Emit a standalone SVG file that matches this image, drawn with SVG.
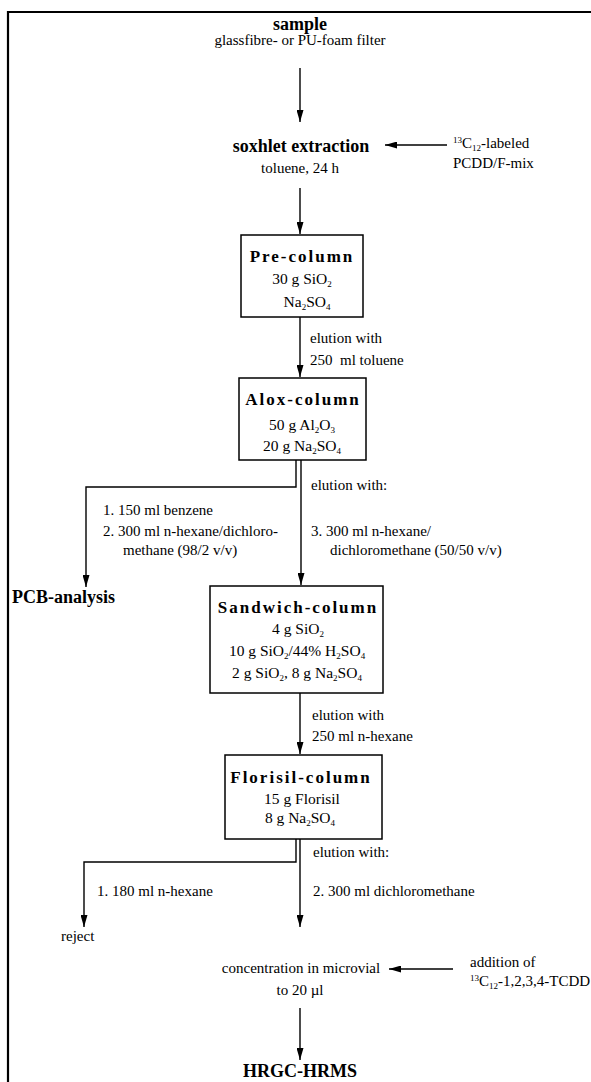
<svg xmlns="http://www.w3.org/2000/svg" width="591" height="1082" viewBox="0 0 591 1082">
<defs>
<marker id="ah" markerUnits="userSpaceOnUse" markerWidth="12" markerHeight="7" refX="12" refY="3.5" orient="auto">
<path d="M0,0 L12,3.5 L0,7 z" fill="#000"/>
</marker>
<style>
.t{font-family:"Liberation Serif","Times New Roman",serif;font-size:15px;fill:#000}
.c{font-size:15.5px}
.b{font-weight:bold;font-size:18px}
.h{font-weight:bold;font-size:17px;letter-spacing:2px}
.m{text-anchor:middle}
.box{fill:#fff;stroke:#000;stroke-width:1.5}
.ln{fill:none;stroke:#000;stroke-width:1.4}
.fr{fill:none;stroke:#000;stroke-width:2.2}
</style>
</defs>
<rect width="591" height="1082" fill="#fff"/>
<g id="frame">
<path class="fr" d="M8,1082 L8,12 L591,12"/>
</g>
<g id="connectors">
<path class="ln" d="M300,68 L300,122" marker-end="url(#ah)"/>
<path class="ln" d="M447,145 L385,145" marker-end="url(#ah)"/>
<path class="ln" d="M300,188 L300,234" marker-end="url(#ah)"/>
<path class="ln" d="M300,317 L300,377" marker-end="url(#ah)"/>
<path class="ln" d="M301,460 L301,585" marker-end="url(#ah)"/>
<path class="ln" d="M296,460 L296,487 L86,487 L86,587" marker-end="url(#ah)"/>
<path class="ln" d="M300,693 L300,754" marker-end="url(#ah)"/>
<path class="ln" d="M300,839 L300,927" marker-end="url(#ah)"/>
<path class="ln" d="M296,839 L296,862 L84,862 L84,927" marker-end="url(#ah)"/>
<path class="ln" d="M453,969 L389,969" marker-end="url(#ah)"/>
<path class="ln" d="M300,1008 L300,1060" marker-end="url(#ah)"/>
</g>
<g id="sample">
<text class="t b m" x="300" y="30">sample</text>
<text class="t m" x="300" y="45">glassfibre- or PU-foam filter</text>
</g>
<g id="soxhlet">
<text class="t b m" x="301" y="152">soxhlet extraction</text>
<text class="t m" x="300" y="173">toluene, 24 h</text>
</g>
<g id="labeled-mix">
<text class="t" x="453" y="148"><tspan font-size="9" dy="-5">13</tspan><tspan dy="5">C</tspan><tspan font-size="9" dy="3">12</tspan><tspan dy="-3">-labeled</tspan></text>
<text class="t" x="453" y="168">PCDD/F-mix</text>
</g>
<g id="pre-column">
<rect class="box" x="241" y="235" width="122" height="82"/>
<text class="t h m" x="302" y="262">Pre-column</text>
<text class="t c m" x="302" y="284">30 g SiO<tspan font-size="9" dy="3">2</tspan></text>
<text class="t c m" x="307" y="307">Na<tspan font-size="9" dy="3">2</tspan><tspan dy="-3">SO</tspan><tspan font-size="9" dy="3">4</tspan></text>
</g>
<g id="label-toluene">
<text class="t" x="310" y="343">elution with</text>
<text class="t" x="310" y="365" xml:space="preserve">250  ml toluene</text>
</g>
<g id="alox-column">
<rect class="box" x="239" y="378" width="127" height="82"/>
<text class="t h m" x="303" y="405">Alox-column</text>
<text class="t c m" x="302" y="430">50 g Al<tspan font-size="9" dy="3">2</tspan><tspan dy="-3">O</tspan><tspan font-size="9" dy="3">3</tspan></text>
<text class="t c m" x="302" y="451">20 g Na<tspan font-size="9" dy="3">2</tspan><tspan dy="-3">SO</tspan><tspan font-size="9" dy="3">4</tspan></text>
</g>
<g id="label-alox">
<text class="t" x="311" y="490">elution with:</text>
<text class="t" x="103" y="515">1. 150 ml benzene</text>
<text class="t" x="103" y="536">2. 300 ml n-hexane/dichloro-</text>
<text class="t" x="123" y="555">methane (98/2 v/v)</text>
<text class="t" x="311" y="536">3. 300 ml n-hexane/</text>
<text class="t" x="330" y="555">dichloromethane (50/50 v/v)</text>
</g>
<g id="pcb-analysis">
<text class="t b" x="12" y="603">PCB-analysis</text>
</g>
<g id="sandwich-column">
<rect class="box" x="210" y="586" width="173" height="107"/>
<text class="t h m" x="298" y="613">Sandwich-column</text>
<text class="t c m" x="298" y="634">4 g SiO<tspan font-size="9" dy="3">2</tspan></text>
<text class="t c m" x="297" y="656">10 g SiO<tspan font-size="9" dy="3">2</tspan><tspan dy="-3">/44% H</tspan><tspan font-size="9" dy="3">2</tspan><tspan dy="-3">SO</tspan><tspan font-size="9" dy="3">4</tspan></text>
<text class="t c m" x="297" y="678">2 g SiO<tspan font-size="9" dy="3">2</tspan><tspan dy="-3">, 8 g Na</tspan><tspan font-size="9" dy="3">2</tspan><tspan dy="-3">SO</tspan><tspan font-size="9" dy="3">4</tspan></text>
</g>
<g id="label-hexane">
<text class="t" x="312" y="720">elution with</text>
<text class="t" x="312" y="741">250 ml n-hexane</text>
</g>
<g id="florisil-column">
<rect class="box" x="225" y="755" width="157" height="84"/>
<text class="t h m" x="301" y="783">Florisil-column</text>
<text class="t c m" x="302" y="804">15 g Florisil</text>
<text class="t c m" x="300" y="823">8 g Na<tspan font-size="9" dy="3">2</tspan><tspan dy="-3">SO</tspan><tspan font-size="9" dy="3">4</tspan></text>
</g>
<g id="label-florisil">
<text class="t" x="313" y="857">elution with:</text>
<text class="t" x="97" y="896">1. 180 ml n-hexane</text>
<text class="t" x="313" y="896">2. 300 ml dichloromethane</text>
</g>
<g id="reject">
<text class="t" x="61" y="941">reject</text>
</g>
<g id="concentration">
<text class="t m" x="301" y="973">concentration in microvial</text>
<text class="t m" x="300" y="995">to 20 µl</text>
</g>
<g id="addition">
<text class="t" x="470" y="967">addition of</text>
<text class="t" x="470" y="986"><tspan font-size="9" dy="-5">13</tspan><tspan dy="5">C</tspan><tspan font-size="9" dy="3">12</tspan><tspan dy="-3">-1,2,3,4-TCDD</tspan></text>
</g>
<g id="hrgc-hrms">
<text class="t b m" x="300" y="1077">HRGC-HRMS</text>
</g>
</svg>
